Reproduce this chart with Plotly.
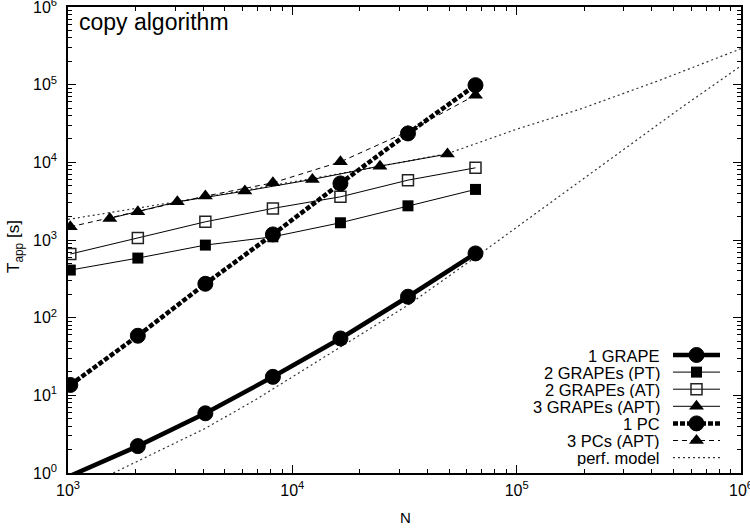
import plotly.graph_objects as go

# ---------------- data ----------------
n_pow2 = [1024, 2048, 4096, 8192, 16384, 32768, 65536]
n_3grape = [1536, 3072, 6144, 12288, 24576, 49152]

t_1grape = [0.92, 2.22, 5.87, 17.3, 54, 186, 672]
t_2grape_pt = [410, 585, 860, 1100, 1667, 2755, 4480]
t_2grape_at = [659, 1058, 1715, 2553, 3597, 5900, 8500]
t_3grape_apt = [1897, 3103, 4259, 6025, 8935, 12760]
t_1pc = [13.6, 58.5, 273, 1180, 5350, 23550, 98600]
t_3pc_apt = [1479, 2306, 3673, 5450, 10150, 25000, 73300]

model_1_n = [1592, 4096, 6824, 16384, 32768, 65536, 195000, 535300, 1000000]
model_1_t = [1.0, 3.76, 8.7, 42, 145, 600, 5900, 49400, 174600]
model_3_n = [1000, 4085, 16320, 49152, 100100, 191800, 435500, 1000000]
model_3_t = [1841, 3565, 7158, 12940, 26740, 48400, 114300, 290500]

legend_labels = ["1 GRAPE", "2 GRAPEs (PT)", "2 GRAPEs (AT)", "3 GRAPEs (APT)",
                 "1 PC", "3 PCs (APT)", "perf. model"]

x_ticks = [1e3, 1e4, 1e5, 1e6]
x_ticktext = ["10<sup>3</sup>", "10<sup>4</sup>", "10<sup>5</sup>", "10<sup>6</sup>"]
y_ticks = [1e0, 1e1, 1e2, 1e3, 1e4, 1e5, 1e6]
y_ticktext = ["10<sup>0</sup>", "10<sup>1</sup>", "10<sup>2</sup>", "10<sup>3</sup>",
              "10<sup>4</sup>", "10<sup>5</sup>", "10<sup>6</sup>"]

# ---------------- styles ----------------
FONT = "Liberation Sans, Arial, Helvetica, sans-serif"
W, H = 750, 528
ML, MR, MT, MB = 68, 9, 7, 55
Y_MIN = 1.0

styles = {
    "1 GRAPE": dict(line=dict(color="black", width=4.5),
                    marker=dict(symbol="circle", size=15, color="black",
                                line=dict(color="black", width=1))),
    "2 GRAPEs (PT)": dict(line=dict(color="black", width=1),
                          marker=dict(symbol="square", size=11, color="black",
                                      line=dict(color="black", width=0))),
    "2 GRAPEs (AT)": dict(line=dict(color="black", width=1),
                          marker=dict(symbol="square-open", size=11, color="#222",
                                      line=dict(color="#222", width=1.5))),
    "3 GRAPEs (APT)": dict(line=dict(color="black", width=1),
                           marker=dict(symbol="triangle-up", size=13, color="black",
                                       line=dict(color="black", width=0))),
    "1 PC": dict(line=dict(color="black", width=4.5, dash="5px,2px"),
                 marker=dict(symbol="circle", size=15, color="black",
                             line=dict(color="black", width=1))),
    "3 PCs (APT)": dict(line=dict(color="black", width=1, dash="5px,4px"),
                        marker=dict(symbol="triangle-up", size=13, color="black",
                                    line=dict(color="black", width=0))),
    "perf. model": dict(line=dict(color="#333", width=1.2, dash="2px,3px")),
}

fig = go.Figure()


def add_series(name, xs, ys, with_markers=True):
    st = styles[name]
    kw = dict(x=xs, y=ys, name=name, showlegend=False,
              line=st["line"], hoverinfo="skip")
    if with_markers:
        m = dict(st["marker"])
        # like gnuplot: no symbol drawn for points outside the y range
        m["size"] = [st["marker"]["size"] if v >= Y_MIN else 0 for v in ys]
        m["opacity"] = 1
        kw["marker"] = m
        kw["mode"] = "lines+markers"
    else:
        kw["mode"] = "lines"
    fig.add_trace(go.Scatter(**kw))


add_series("perf. model", model_1_n, model_1_t, with_markers=False)
add_series("perf. model", model_3_n, model_3_t, with_markers=False)
add_series("2 GRAPEs (PT)", n_pow2, t_2grape_pt)
add_series("2 GRAPEs (AT)", n_pow2, t_2grape_at)
add_series("3 GRAPEs (APT)", n_3grape, t_3grape_apt)
add_series("3 PCs (APT)", n_pow2, t_3pc_apt)
add_series("1 PC", n_pow2, t_1pc)
add_series("1 GRAPE", n_pow2, t_1grape)

# ---------------- gnuplot-like key (sample on the right of text) ----------------
pw = W - ML - MR
ph = H - MT - MB
key_x0 = (673 - ML) / pw
key_x1 = (720 - ML) / pw
key_txt = (662 - ML) / pw
key_top = (H - MB - 355) / ph
key_step = 17.1 / ph

annotations = []
for i, lab in enumerate(legend_labels):
    yy = key_top - i * key_step
    st = styles[lab]
    kw = dict(x=[key_x0, (key_x0 + key_x1) / 2, key_x1], y=[yy, yy, yy],
              xaxis="x2", yaxis="y2", showlegend=False, hoverinfo="skip",
              line=st["line"])
    if "marker" in st:
        m = dict(st["marker"])
        m["size"] = [0, st["marker"]["size"], 0]
        m["opacity"] = 1
        kw["marker"] = m
        kw["mode"] = "lines+markers"
    else:
        kw["mode"] = "lines"
    fig.add_trace(go.Scatter(**kw))
    annotations.append(dict(x=key_txt, y=yy, xref="paper", yref="paper",
                            text=lab, showarrow=False, xanchor="right",
                            yanchor="middle", height=17, valign="middle",
                            font=dict(size=16.5, color="black", family=FONT)))

annotations.append(dict(x=(77 - ML) / pw, y=(H - MB - 22) / ph, xref="paper", yref="paper",
                        text="copy algorithm", showarrow=False, xanchor="left",
                        yanchor="middle", font=dict(size=23, color="black", family=FONT)))
annotations.append(dict(x=-53 / pw, y=(H - MB - 247) / ph, xref="paper", yref="paper",
                        text="T<sub>app</sub> [s]", showarrow=False, textangle=-90,
                        xanchor="center", yanchor="middle",
                        font=dict(size=17, color="black", family=FONT)))
annotations.append(dict(x=(405 - ML) / pw, y=-(517 - (H - MB)) / ph, xref="paper", yref="paper",
                        text="N", showarrow=False, xanchor="center", yanchor="middle",
                        font=dict(size=15, color="black", family=FONT)))

axis_common = dict(
    type="log", showline=True, linecolor="black", linewidth=1.5, mirror="allticks",
    ticks="inside", ticklen=8, tickwidth=1, tickcolor="black", automargin=False,
    showgrid=False, zeroline=False, ticklabeloverflow="allow",
    tickfont=dict(size=16, color="black", family=FONT),
    minor=dict(ticks="inside", ticklen=4, tickwidth=1, tickcolor="black",
               showgrid=False, dtick="D1"),
)

fig.update_layout(
    width=W, height=H,
    margin=dict(l=ML, r=MR, t=MT, b=MB, autoexpand=False),
    paper_bgcolor="white", plot_bgcolor="white",
    font=dict(family=FONT, color="black"),
    xaxis=dict(range=[3, 6], tickvals=x_ticks, ticktext=x_ticktext,
               ticklabelstandoff=2, **axis_common),
    yaxis=dict(range=[0, 6], tickvals=y_ticks, ticktext=y_ticktext,
               ticklabelstandoff=6, **axis_common),
    xaxis2=dict(domain=[0, 1], range=[0, 1], overlaying="x", visible=False),
    yaxis2=dict(domain=[0, 1], range=[0, 1], overlaying="y", visible=False),
    annotations=annotations,
    showlegend=False,
)

fig.write_html(
    "out.html",
    config={"displayModeBar": False},
    post_script="document.body.style.margin='0';document.body.style.overflow='hidden';",
)
